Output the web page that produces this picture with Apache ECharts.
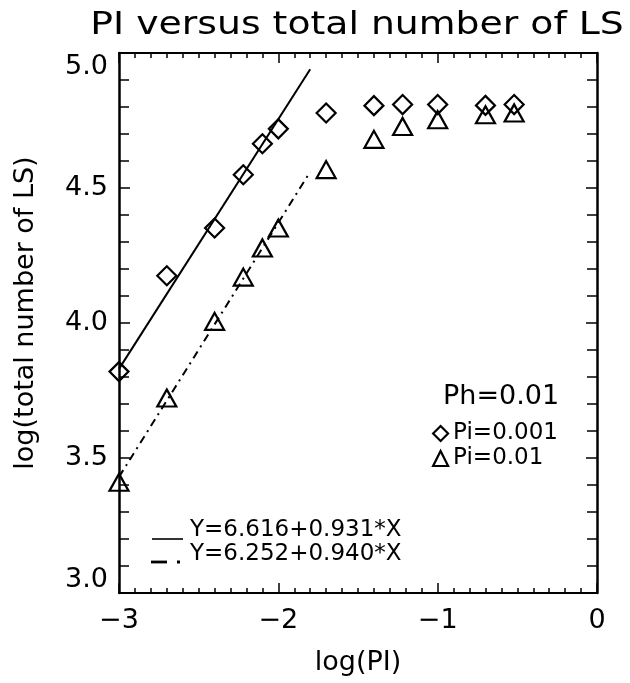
<!DOCTYPE html>
<html>
<head>
<meta charset="utf-8">
<script src="https://cdn.jsdelivr.net/npm/echarts@6/dist/echarts.min.js"></script>
<style>
  html, body { margin: 0; padding: 0; background: #fff; }
  #main { width: 630px; height: 683px; }
</style>
</head>
<body>
<div id="main"></div>
<script>
// log(PI) values shared by both runs
var logPI = [-3, -2.7, -2.4, -2.22, -2.1, -2.0, -1.7, -1.4, -1.22, -1.0, -0.7, -0.52]
// log(total number of LS), Pi=0.001 (diamonds)
var lsPi001 = [3.82, 4.175, 4.352, 4.549, 4.664, 4.719, 4.778, 4.805, 4.809, 4.809, 4.806, 4.809]
// log(total number of LS), Pi=0.01 (triangles)
var lsPi01 = [3.41, 3.722, 4.006, 4.170, 4.278, 4.352, 4.568, 4.68, 4.728, 4.753, 4.771, 4.778]
// fitted lines, end points
var fitSolidX = [-3, -1.8]
var fitSolidY = [3.83, 4.94]
var fitDashX = [-3, -1.8]
var fitDashY = [3.43, 4.56]
var fitLabels = ['Y=6.616+0.931*X', 'Y=6.252+0.940*X']

var FONT = 'DejaVu Sans'

function pairs (xs, ys) {
  return xs.map(function (x, i) { return [x, ys[i]] })
}

// frame axis (bottom/top/left/right), IDL style ticks inside
function makeX (pos, labels) {
  return {
    type: 'value', position: pos, min: -3, max: 0, interval: 1,
    axisLine: { show: true, onZero: false, lineStyle: { color: '#000', width: 2 } },
    axisTick: { show: true, inside: true, length: 10, lineStyle: { color: '#000', width: 1.5 } },
    minorTick: { show: true, splitNumber: 10, length: 5, lineStyle: { color: '#000', width: 1.5 } },
    splitLine: { show: false },
    axisLabel: {
      show: labels, margin: 14, color: '#000', fontSize: 27, fontFamily: FONT,
      formatter: function (v) { return String(v).replace('-', '\u2212') }
    },
    name: labels ? 'log(PI)' : '', nameLocation: 'middle', nameGap: 56,
    nameTextStyle: { color: '#000', fontSize: 27, fontFamily: FONT }
  }
}

function makeY (pos, labels) {
  return {
    type: 'value', position: pos, min: 3, max: 5, interval: 0.5,
    axisLine: { show: true, onZero: false, lineStyle: { color: '#000', width: 2.5 } },
    axisTick: { show: true, inside: true, length: 11, lineStyle: { color: '#000', width: 1.5 } },
    minorTick: { show: true, splitNumber: 5, length: 10, lineStyle: { color: '#000', width: 1.5 } },
    splitLine: { show: false },
    axisLabel: {
      show: labels, margin: 11, color: '#000', fontSize: 27, fontFamily: FONT,
      verticalAlignMaxLabel: 'top', verticalAlignMinLabel: 'bottom',
      formatter: function (v) { return v.toFixed(1) }
    },
    name: labels ? 'log(total number of LS)' : '', nameLocation: 'middle', nameGap: 80,
    nameTextStyle: { color: '#000', fontSize: 27, fontFamily: FONT, padding: [0, 0, 0, 20] }
  }
}

var chart = echarts.init(document.getElementById('main'))
var symStyle = { color: 'rgba(0,0,0,0)', borderColor: '#000', borderWidth: 2.2, opacity: 1 }

chart.setOption({
  backgroundColor: '#fff',
  animation: false,
  title: {
    text: 'Ph=0.01', left: 438, top: 378,
    textStyle: { color: '#000', fontSize: 27, fontWeight: 'normal', fontFamily: FONT }
  },
  grid: { left: 119, right: 33, top: 53, bottom: 90, containLabel: false, outerBoundsMode: 'none' },
  xAxis: [makeX('bottom', true), makeX('top', false)],
  yAxis: [makeY('left', true), makeY('right', false)],
  legend: {
    orient: 'vertical', left: 427, top: 417, itemGap: 2,
    itemWidth: 15, itemHeight: 15,
    textStyle: { color: '#000', fontSize: 23, fontFamily: FONT },
    itemStyle: symStyle,
    data: ['Pi=0.001', 'Pi=0.01']
  },
  graphic: [
    // IDL title is drawn wide, stretch it to the same extent
    {
      type: 'text', x: 357, y: 26, scaleX: 1.18,
      style: { text: 'PI versus total number of LS', fill: '#000', font: '32px "DejaVu Sans"', align: 'center', verticalAlign: 'middle' }
    },
    { type: 'line', shape: { x1: 152, y1: 539, x2: 183, y2: 539 }, style: { stroke: '#000', lineWidth: 1.6 } },
    { type: 'text', x: 190, y: 530, style: { text: fitLabels[0], fill: '#000', font: '23px "DejaVu Sans"', verticalAlign: 'middle' } },
    { type: 'line', shape: { x1: 151, y1: 562, x2: 167, y2: 562 }, style: { stroke: '#000', lineWidth: 2.8 } },
    { type: 'rect', shape: { x: 177, y: 560.5, width: 3, height: 3 }, style: { fill: '#000' } },
    { type: 'text', x: 190, y: 554, style: { text: fitLabels[1], fill: '#000', font: '23px "DejaVu Sans"', verticalAlign: 'middle' } }
  ],
  series: [
    {
      name: 'fit1', type: 'line', data: pairs(fitSolidX, fitSolidY), showSymbol: false, symbol: 'none',
      lineStyle: { color: '#000', width: 2 }, silent: true
    },
    {
      name: 'fit2', type: 'line', data: pairs(fitDashX, fitDashY), showSymbol: false, symbol: 'none',
      lineStyle: { color: '#000', width: 2, type: [8, 5, 2, 5] }, silent: true
    },
    {
      name: 'Pi=0.001', type: 'scatter', symbol: 'diamond', symbolSize: [19, 19],
      data: pairs(logPI, lsPi001), itemStyle: symStyle
    },
    {
      name: 'Pi=0.01', type: 'scatter', symbol: 'triangle', symbolSize: [19, 17],
      data: pairs(logPI, lsPi01), itemStyle: symStyle
    }
  ]
})
</script>
</body>
</html>
